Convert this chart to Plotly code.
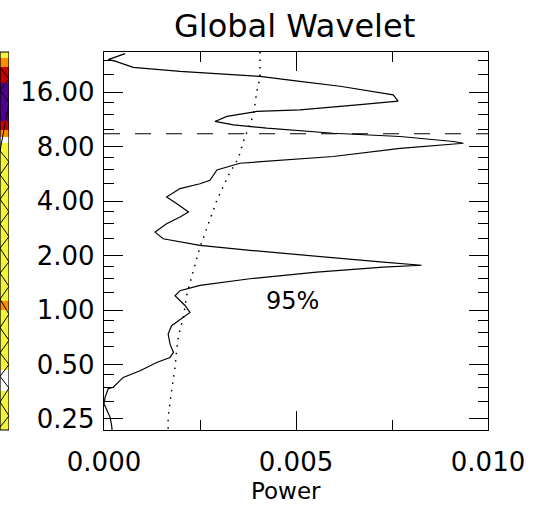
import plotly.graph_objects as go
import numpy as np

# ---------------- data ----------------
# global wavelet power (x) versus period (y)
gws_power = [0.00055, 0.00011, 0.00029, 0.00076, 0.00198, 0.00259, 0.00406, 0.00510,
             0.00615, 0.00753, 0.00766, 0.00667, 0.00510, 0.00398, 0.00320, 0.00289,
             0.00337, 0.00424, 0.00597, 0.00771, 0.00910, 0.00936, 0.00771, 0.00597,
             0.00467, 0.00354, 0.00294, 0.00281, 0.00276, 0.00250, 0.00198, 0.00163,
             0.00189, 0.00220, 0.00198, 0.00163, 0.00133, 0.00154, 0.00250, 0.00380,
             0.00554, 0.00727, 0.00827, 0.00727, 0.00554, 0.00380, 0.00250, 0.00198,
             0.00185, 0.00194, 0.00211, 0.00224, 0.00202, 0.00176, 0.00167, 0.00172,
             0.00181, 0.00172, 0.00137, 0.00094, 0.00050, 0.00024, 0.00011, 0.00003,
             0.00000, 0.00007, 0.00016, 0.00020, 0.00021]
gws_period = [26.2, 24.3, 23.8, 22.0, 20.9, 20.5, 19.6, 18.4,
              17.3, 15.5, 14.3, 13.7, 12.8, 12.56, 11.78, 11.05,
              10.58, 10.14, 9.51, 9.12, 8.56, 8.37, 7.85, 7.07,
              6.77, 6.49, 5.96, 5.47, 5.22, 5.00, 4.70, 4.22,
              3.89, 3.49, 3.27, 3.00, 2.70, 2.48, 2.28, 2.14,
              1.98, 1.84, 1.77, 1.73, 1.62, 1.49, 1.37, 1.28,
              1.20, 1.15, 1.06, 0.97, 0.894, 0.82, 0.737, 0.648,
              0.583, 0.547, 0.513, 0.462, 0.424, 0.374, 0.367, 0.33,
              0.303, 0.278, 0.255, 0.229, 0.217]

# 95% significance level
sig_power = [0.00406, 0.00406, 0.00398, 0.00389, 0.00376, 0.00363, 0.00350, 0.00324,
             0.00294, 0.00263, 0.00250, 0.00233, 0.00220, 0.00215, 0.00207, 0.00194,
             0.00189, 0.00185, 0.00176, 0.00167, 0.00167]
sig_period = [26.8, 19.2, 16.2, 12.0, 10.14, 8.56, 6.92, 5.57,
              4.05, 2.70, 2.23, 1.66, 1.34, 1.20, 0.913, 0.722,
              0.596, 0.482, 0.358, 0.255, 0.217]

dashed_period = 9.45  # horizontal dashed reference period

y_tickvals = [0.25, 0.5, 1, 2, 4, 8, 16]
y_ticktext = ["0.25", "0.50", "1.00", "2.00", "4.00", "8.00", "16.00"]
y_minor = [a * f for a in [0.125, 0.25, 0.5, 1, 2, 4, 8, 16] for f in (1.25, 1.5, 1.75)]
x_tickvals = [0.0, 0.005, 0.010]
x_ticktext = ["0.000", "0.005", "0.010"]
x_minor = [0.0025, 0.0075]

# left strip (edge of the wavelet power spectrum panel): band edges (period) and level
strip_edges = [26.8, 24.8, 22.1, 18.0, 11.2, 9.9, 9.04, 8.39, 1.13, 1.0, 0.467, 0.358, 0.217]
strip_level = [1, 2, 3, 4, 3, 2, 0, 1, 2, 1, 0, 1]
hatch_periods = [22.0, 19.0, 16.5, 14.0, 7.6, 6.6, 5.6, 4.8, 4.1, 3.5, 3.0, 2.55,
                 2.2, 1.85, 1.6, 1.35, 1.15, 0.95, 0.8, 0.68, 0.58, 0.5, 0.43, 0.37, 0.31, 0.26, 0.225]

FONT = "DejaVu Sans"
W, H = 535, 505
T, B = 52, 75
PX0, PX1 = 104, 488  # plot box left/right in pixels
ylo, yhi = 0.2171, 26.76

fig = go.Figure()

# left strip heatmap
colorscale = [[0.0, "#ffffff"], [0.2, "#ffffff"],
              [0.2, "#f4f43a"], [0.4, "#f4f43a"],
              [0.4, "#ff8c00"], [0.6, "#ff8c00"],
              [0.6, "#c80000"], [0.8, "#c80000"],
              [0.8, "#50008c"], [1.0, "#50008c"]]
fig.add_trace(go.Heatmap(
    x=[0, 1], y=strip_edges[::-1],
    z=[[v] for v in strip_level[::-1]],
    colorscale=colorscale, zmin=-0.5, zmax=4.5, showscale=False,
    xaxis="x2", yaxis="y", hoverinfo="skip"))
hx = [(i % 2) for i in range(len(hatch_periods))]
fig.add_trace(go.Scatter(x=hx, y=hatch_periods, mode="lines",
                         line=dict(color="black", width=1), xaxis="x2", yaxis="y",
                         hoverinfo="skip", showlegend=False))

# main curves
fig.add_trace(go.Scatter(x=gws_power, y=gws_period, mode="lines",
                         line=dict(color="black", width=1.2), showlegend=False))
fig.add_trace(go.Scatter(x=sig_power, y=sig_period, mode="lines",
                         line=dict(color="black", width=1.5, dash="1.5px,6px"), showlegend=False))
fig.add_trace(go.Scatter(x=[0.0, 0.010], y=[dashed_period, dashed_period], mode="lines",
                         line=dict(color="black", width=1.2, dash="16px,15px"), showlegend=False))

axis_font = dict(family=FONT, size=26, color="black")
fig.update_layout(
    width=W, height=H,
    margin=dict(l=0, r=0, t=T, b=B, pad=0, autoexpand=False),
    paper_bgcolor="white", plot_bgcolor="white",
    showlegend=False,
    xaxis=dict(domain=[PX0 / W, PX1 / W], range=[0, 0.010], tickmode="array", tickvals=x_tickvals,
               ticktext=x_ticktext, ticks="inside", ticklen=19, tickwidth=1.2, tickcolor="black",
               minor=dict(tickmode="array", tickvals=x_minor, ticks="inside", ticklen=10,
                          tickwidth=1.2, tickcolor="black", showgrid=False),
               showline=True, linecolor="black", linewidth=1.3, mirror="ticks",
               showgrid=False, zeroline=False, tickfont=axis_font, ticklabelstandoff=9,
               automargin=False),
    yaxis=dict(type="log", range=[np.log10(ylo), np.log10(yhi)], tickmode="array",
               tickvals=y_tickvals, ticktext=y_ticktext, ticks="inside", ticklen=19,
               tickwidth=1.2, tickcolor="black",
               minor=dict(tickmode="array", tickvals=y_minor, ticks="inside", ticklen=10,
                          tickwidth=1.2, tickcolor="black", showgrid=False),
               showline=True, linecolor="black", linewidth=1.3, mirror="ticks",
               showgrid=False, zeroline=False, tickfont=axis_font, ticklabelstandoff=3,
               automargin=False),
    xaxis2=dict(domain=[0, 9 / W], range=[0, 1], anchor="y", visible=False, automargin=False),
)
fig.add_shape(type="rect", xref="x2", yref="paper", x0=0, x1=1, y0=0, y1=1,
              line=dict(color="black", width=1.2))

plot_h = H - T - B
fig.add_annotation(text="Global Wavelet", xref="paper", yref="paper",
                   x=294 / W, y=(H - B - 26) / plot_h, xanchor="center", yanchor="middle",
                   showarrow=False, font=dict(family=FONT, size=32, color="black"))
fig.add_annotation(text="Power", xref="paper", yref="paper",
                   x=286 / W, y=(H - B - 491) / plot_h, xanchor="center", yanchor="middle",
                   showarrow=False, font=dict(family=FONT, size=23, color="black"))
fig.add_annotation(text="95%", x=0.0049, y=np.log10(1.12), xanchor="center", yanchor="middle",
                   showarrow=False, font=dict(family=FONT, size=24, color="black"))

fig.write_html("out.html", post_script="document.body.style.margin='0';",
               config={"displayModeBar": False})
